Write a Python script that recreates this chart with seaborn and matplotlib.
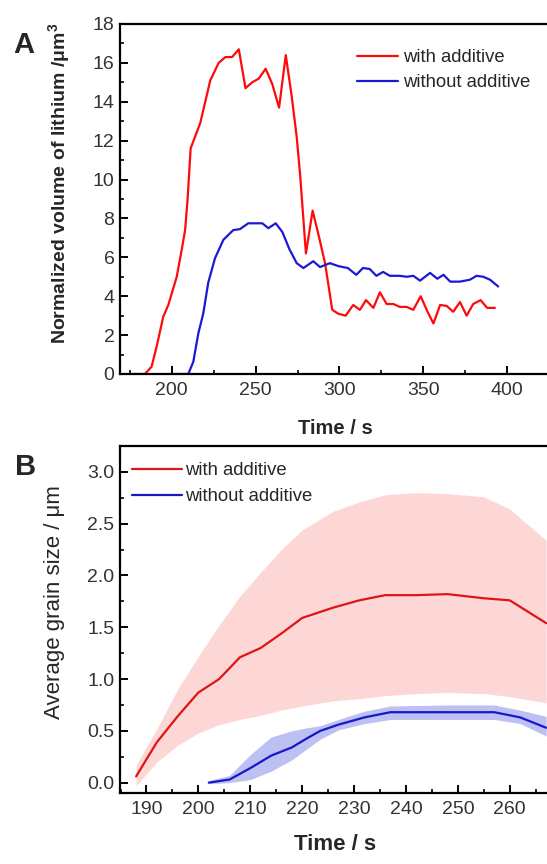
import matplotlib
matplotlib.use("Agg")
import matplotlib.pyplot as plt
import seaborn as sns
import pandas as pd
from matplotlib.ticker import MultipleLocator, FixedLocator, FormatStrFormatter

# ---------------- data: panel A ----------------
a_with_t = [175, 184, 188, 191, 195, 198, 203, 206, 208, 209.5, 211.3, 217, 223, 228, 232, 236, 240, 244, 248, 252,
            256, 260, 264, 268, 271.5, 274.5, 276.5, 280, 284, 287.4, 291.4, 295.7, 299.3, 303.7, 308.2, 312.2,
            315.8, 320.2, 324.1, 328.1, 332.1, 336, 340, 344, 348.4, 352.5, 356, 360, 363.9, 367.8, 371.8, 375.8,
            379.7, 384.1, 388, 392.6]
a_with_v = [0, 0, 0.37, 1.4, 2.95, 3.55, 5.0, 6.4, 7.4, 9.0, 11.6, 12.9, 15.1, 16.0, 16.3, 16.3, 16.7, 14.7, 15.0, 15.2,
            15.7, 14.9, 13.7, 16.4, 14.3, 12.2, 10.3, 6.2, 8.4, 7.2, 5.7, 3.3, 3.1, 3.0, 3.55, 3.3,
            3.8, 3.4, 4.2, 3.6, 3.6, 3.45, 3.45, 3.3, 4.0, 3.2, 2.6, 3.55, 3.5, 3.2, 3.7, 3.0,
            3.6, 3.8, 3.4, 3.4]
a_without_t = [202, 209.9, 212.9, 215.9, 218.8, 221.8, 225.8, 230.8, 236.7, 240.7, 245.6, 249.7, 254, 257.6, 262,
               266, 270, 274.5, 278.5, 284.4, 288.4, 294.3, 299.3, 305, 310, 314, 318, 322, 326, 330, 336, 340, 344,
               348, 354, 358.3, 362, 366, 371.8, 377.8, 381.7, 385.7, 389.7, 394.6]
a_without_v = [0, 0, 0.63, 2.1, 3.1, 4.7, 5.95, 6.9, 7.4, 7.45, 7.75, 7.75, 7.75, 7.5, 7.75,
               7.3, 6.45, 5.7, 5.45, 5.8, 5.5, 5.7, 5.55, 5.45, 5.1, 5.45, 5.4, 5.05, 5.25, 5.05, 5.05, 5.0, 5.05,
               4.8, 5.2, 4.9, 5.1, 4.75, 4.75, 4.85, 5.05, 5.0, 4.85, 4.5]

# ---------------- data: panel B ----------------
b_with_t = [188, 192, 196, 200, 204, 208, 212, 216, 220, 226, 231, 236, 242, 248, 255, 260, 267]
b_with_mean = [0.06, 0.39, 0.64, 0.87, 1.00, 1.21, 1.30, 1.44, 1.59, 1.69, 1.76, 1.81, 1.81, 1.82, 1.78, 1.76, 1.54]
b_with_hi = [0.17, 0.52, 0.90, 1.22, 1.52, 1.80, 2.03, 2.25, 2.44, 2.62, 2.71, 2.78, 2.80, 2.79, 2.76, 2.64, 2.34]
b_with_lo = [-0.03, 0.20, 0.36, 0.48, 0.56, 0.61, 0.65, 0.70, 0.74, 0.79, 0.81, 0.84, 0.86, 0.87, 0.86, 0.83, 0.77]
b_without_t = [202, 206, 210, 214, 218, 221, 223.5, 227, 232, 237, 248, 257, 262, 267]
b_without_mean = [0.0, 0.03, 0.14, 0.26, 0.34, 0.43, 0.50, 0.56, 0.63, 0.68, 0.68, 0.68, 0.63, 0.53]
b_without_hi = [0.02, 0.07, 0.27, 0.44, 0.50, 0.53, 0.55, 0.61, 0.69, 0.74, 0.75, 0.75, 0.70, 0.64]
b_without_lo = [-0.01, 0.0, 0.03, 0.11, 0.22, 0.33, 0.42, 0.51, 0.57, 0.61, 0.61, 0.61, 0.57, 0.45]

labels = ["with additive", "without additive"]

sns.set_style("ticks")
plt.rcParams["font.family"] = ["Liberation Sans", "DejaVu Sans"]
plt.rcParams["mathtext.fontset"] = "custom"
plt.rcParams["mathtext.rm"] = "Liberation Sans"
plt.rcParams["mathtext.bf"] = "Liberation Sans:bold"

W, H = 547, 864
fig = plt.figure(figsize=(W / 100, H / 100), dpi=100)

def px_axes(left, top, width, height):
    return fig.add_axes([left / W, 1 - (top + height) / H, width / W, height / H])

axA = px_axes(120, 24, 437.6, 350)
axB = px_axes(120, 446, 441.7, 347)

dfA = pd.concat([
    pd.DataFrame({"t": a_with_t, "v": a_with_v, "s": labels[0]}),
    pd.DataFrame({"t": a_without_t, "v": a_without_v, "s": labels[1]}),
])
sns.lineplot(data=dfA, x="t", y="v", hue="s", palette=["#ff0a0a", "#1a1ad6"], estimator=None,
             sort=False, linewidth=1.6, ax=axA)

dfB = pd.concat([
    pd.DataFrame({"t": b_with_t, "v": b_with_mean, "s": labels[0]}),
    pd.DataFrame({"t": b_without_t, "v": b_without_mean, "s": labels[1]}),
])
axB.fill_between(b_with_t, b_with_lo, b_with_hi, color="#fdd6d6", linewidth=0, zorder=1)
axB.fill_between(b_without_t, b_without_lo, b_without_hi, color="#bcc0f2", linewidth=0, zorder=1)
sns.lineplot(data=dfB, x="t", y="v", hue="s", palette=["#e01414", "#1818c8"], estimator=None,
             sort=False, linewidth=1.6, ax=axB, zorder=3)

# axes styling
for ax in (axA, axB):
    for side in ("left", "bottom", "top"):
        ax.spines[side].set_linewidth(1.6)
        ax.spines[side].set_color("black")
    ax.spines["right"].set_visible(False)
    ax.tick_params(which="both", direction="in", top=False, right=False, colors="black",
                   labelcolor="#333333", labelsize=14)
    ax.tick_params(which="major", length=6, width=1.4)
    ax.tick_params(which="minor", length=3, width=1.2)
    ax.tick_params(axis="x", pad=6)
    ax.tick_params(axis="y", pad=4)

axA.set_xlim(169.2, 430)
axA.set_ylim(0, 18)
axA.xaxis.set_major_locator(FixedLocator([200, 250, 300, 350, 400]))
axA.xaxis.set_minor_locator(FixedLocator([175, 225, 275, 325, 375, 425]))
axA.yaxis.set_major_locator(MultipleLocator(2))
axA.yaxis.set_minor_locator(MultipleLocator(1))

axB.set_xlim(184.9, 270)
axB.set_ylim(-0.1, 3.25)
axB.xaxis.set_major_locator(FixedLocator([190, 200, 210, 220, 230, 240, 250, 260]))
axB.xaxis.set_minor_locator(FixedLocator([185, 195, 205, 215, 225, 235, 245, 255, 265]))
axB.yaxis.set_major_locator(MultipleLocator(0.5))
axB.yaxis.set_minor_locator(MultipleLocator(0.25))
axB.yaxis.set_major_formatter(FormatStrFormatter("%.1f"))

axA.set_xlabel("Time / s", fontsize=14.5, fontweight="bold")
axA.set_ylabel(r"Normalized volume of lithium /$\mathbf{\mu m^3}$", fontsize=14, fontweight="bold")
axA.xaxis.set_label_coords((335 - 120) / 437.6, -0.13)
axA.yaxis.set_label_coords((72 - 120) / 437.6, 0.546)

axB.set_xlabel("Time / s", fontsize=16, fontweight="bold")
axB.set_ylabel("Average grain size / μm", fontsize=16)
axB.xaxis.set_label_coords((335 - 120) / 441.7, -0.118)
axB.yaxis.set_label_coords((65 - 120) / 441.7, 0.55)

axA.legend(loc="upper left", bbox_to_anchor=((357 - 120) / 437.6, 1 - (49 - 24) / 350), frameon=False,
           fontsize=13.3, handlelength=2.2, handletextpad=0.3, borderpad=0, borderaxespad=0, labelspacing=0.45)
axB.legend(loc="upper left", bbox_to_anchor=((132 - 120) / 441.7, 1 - (462 - 446) / 347), frameon=False,
           fontsize=13.3, handlelength=2.7, handletextpad=0.15, borderpad=0, borderaxespad=0,
           labelspacing=0.5)

fig.text(13 / W, 1 - 53 / H, "A", fontsize=21, fontweight="bold", va="baseline", ha="left")
fig.text(15 / W, 1 - 475 / H, "B", fontsize=21, fontweight="bold", va="baseline", ha="left")

fig.savefig("out.png", dpi=100)
